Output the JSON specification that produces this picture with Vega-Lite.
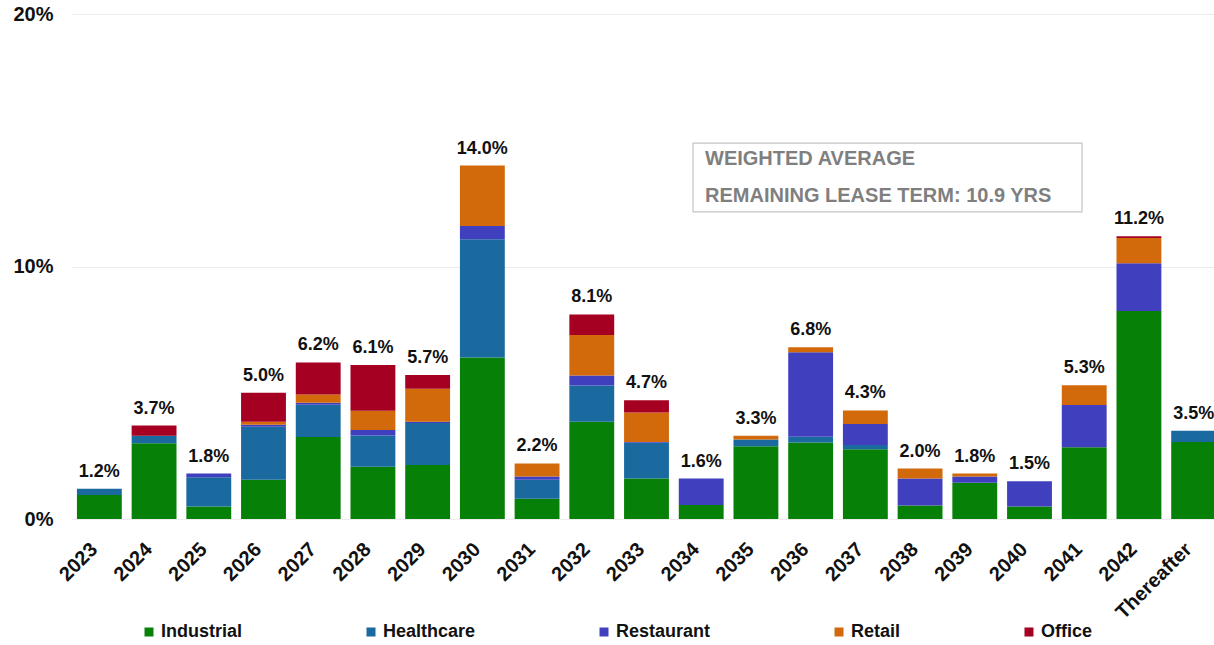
{
  "$schema": "https://vega.github.io/schema/vega-lite/v6.json",
  "width": 1149,
  "height": 505,
  "autosize": {"type": "none"},
  "padding": {"left": 72, "top": 14, "right": 0, "bottom": 126},
  "background": "white",
  "config": {"view": {"stroke": null}, "font": "Liberation Sans"},
  "datasets": {
    "leases": [
      {"year": "2023", "type": "Industrial", "value": 0.0095},
      {"year": "2023", "type": "Healthcare", "value": 0.0025},
      {"year": "2024", "type": "Industrial", "value": 0.03},
      {"year": "2024", "type": "Healthcare", "value": 0.003},
      {"year": "2024", "type": "Office", "value": 0.004},
      {"year": "2025", "type": "Industrial", "value": 0.005},
      {"year": "2025", "type": "Healthcare", "value": 0.0115},
      {"year": "2025", "type": "Restaurant", "value": 0.0015},
      {"year": "2026", "type": "Industrial", "value": 0.0155},
      {"year": "2026", "type": "Healthcare", "value": 0.021},
      {"year": "2026", "type": "Restaurant", "value": 0.0008},
      {"year": "2026", "type": "Retail", "value": 0.0012},
      {"year": "2026", "type": "Office", "value": 0.0115},
      {"year": "2027", "type": "Industrial", "value": 0.0325},
      {"year": "2027", "type": "Healthcare", "value": 0.0127},
      {"year": "2027", "type": "Restaurant", "value": 0.0008},
      {"year": "2027", "type": "Retail", "value": 0.0033},
      {"year": "2027", "type": "Office", "value": 0.0127},
      {"year": "2028", "type": "Industrial", "value": 0.0207},
      {"year": "2028", "type": "Healthcare", "value": 0.0124},
      {"year": "2028", "type": "Restaurant", "value": 0.0021},
      {"year": "2028", "type": "Retail", "value": 0.0077},
      {"year": "2028", "type": "Office", "value": 0.0181},
      {"year": "2029", "type": "Industrial", "value": 0.0214},
      {"year": "2029", "type": "Healthcare", "value": 0.0166},
      {"year": "2029", "type": "Restaurant", "value": 0.0005},
      {"year": "2029", "type": "Retail", "value": 0.0131},
      {"year": "2029", "type": "Office", "value": 0.0054},
      {"year": "2030", "type": "Industrial", "value": 0.064},
      {"year": "2030", "type": "Healthcare", "value": 0.0468},
      {"year": "2030", "type": "Restaurant", "value": 0.0052},
      {"year": "2030", "type": "Retail", "value": 0.024},
      {"year": "2031", "type": "Industrial", "value": 0.008},
      {"year": "2031", "type": "Healthcare", "value": 0.0075},
      {"year": "2031", "type": "Restaurant", "value": 0.0013},
      {"year": "2031", "type": "Retail", "value": 0.0052},
      {"year": "2032", "type": "Industrial", "value": 0.0385},
      {"year": "2032", "type": "Healthcare", "value": 0.0144},
      {"year": "2032", "type": "Restaurant", "value": 0.0039},
      {"year": "2032", "type": "Retail", "value": 0.0161},
      {"year": "2032", "type": "Office", "value": 0.0081},
      {"year": "2033", "type": "Industrial", "value": 0.016},
      {"year": "2033", "type": "Healthcare", "value": 0.0142},
      {"year": "2033", "type": "Restaurant", "value": 0.0003},
      {"year": "2033", "type": "Retail", "value": 0.0117},
      {"year": "2033", "type": "Office", "value": 0.0048},
      {"year": "2034", "type": "Industrial", "value": 0.0055},
      {"year": "2034", "type": "Restaurant", "value": 0.0105},
      {"year": "2035", "type": "Industrial", "value": 0.0288},
      {"year": "2035", "type": "Healthcare", "value": 0.0027},
      {"year": "2035", "type": "Retail", "value": 0.0015},
      {"year": "2036", "type": "Industrial", "value": 0.0303},
      {"year": "2036", "type": "Healthcare", "value": 0.0023},
      {"year": "2036", "type": "Restaurant", "value": 0.0334},
      {"year": "2036", "type": "Retail", "value": 0.002},
      {"year": "2037", "type": "Industrial", "value": 0.0276},
      {"year": "2037", "type": "Healthcare", "value": 0.0017},
      {"year": "2037", "type": "Restaurant", "value": 0.0083},
      {"year": "2037", "type": "Retail", "value": 0.0054},
      {"year": "2038", "type": "Industrial", "value": 0.0053},
      {"year": "2038", "type": "Restaurant", "value": 0.0107},
      {"year": "2038", "type": "Retail", "value": 0.004},
      {"year": "2039", "type": "Industrial", "value": 0.0144},
      {"year": "2039", "type": "Restaurant", "value": 0.0024},
      {"year": "2039", "type": "Retail", "value": 0.0012},
      {"year": "2040", "type": "Industrial", "value": 0.005},
      {"year": "2040", "type": "Restaurant", "value": 0.01},
      {"year": "2041", "type": "Industrial", "value": 0.0284},
      {"year": "2041", "type": "Restaurant", "value": 0.0167},
      {"year": "2041", "type": "Retail", "value": 0.0079},
      {"year": "2042", "type": "Industrial", "value": 0.0824},
      {"year": "2042", "type": "Restaurant", "value": 0.0189},
      {"year": "2042", "type": "Retail", "value": 0.01},
      {"year": "2042", "type": "Office", "value": 0.0007},
      {"year": "Thereafter", "type": "Industrial", "value": 0.0305},
      {"year": "Thereafter", "type": "Healthcare", "value": 0.0045}
    ],
    "typeRank": [
      {"type": "Industrial", "rank": 1},
      {"type": "Healthcare", "rank": 2},
      {"type": "Restaurant", "rank": 3},
      {"type": "Retail", "rank": 4},
      {"type": "Office", "rank": 5}
    ],
    "noteBox": [
      {"left": 11.35, "right": 18.46, "bottom": 0.1216, "top": 0.1489}
    ],
    "noteText": [
      {"line": "WEIGHTED AVERAGE", "at": 11.57, "level": 0.1425},
      {"line": "REMAINING LEASE TERM: 10.9 YRS", "at": 11.57, "level": 0.1279}
    ]
  },
  "layer": [
    {
      "data": {"name": "leases"},
      "encoding": {
        "x": {
          "field": "year",
          "type": "nominal",
          "sort": ["2023","2024","2025","2026","2027","2028","2029","2030","2031","2032","2033","2034","2035","2036","2037","2038","2039","2040","2041","2042","Thereafter"],
          "scale": {"paddingInner": 0.18, "paddingOuter": 0.09},
          "axis": {
            "title": null,
            "labelAngle": -45,
            "labelAlign": "right",
            "labelBaseline": "middle",
            "labelFont": "Liberation Sans",
            "labelFontSize": 20,
            "labelFontWeight": "bold",
            "labelColor": "#111111",
            "labelPadding": 27,
            "labelOffset": -5,
            "labelOverlap": false,
            "labelFlush": false,
            "labelBound": false,
            "ticks": false,
            "domain": false
          }
        }
      },
      "layer": [
        {
          "transform": [
            {"lookup": "type", "from": {"data": {"name": "typeRank"}, "key": "type", "fields": ["rank"]}}
          ],
          "mark": {"type": "bar"},
          "encoding": {
            "y": {
              "field": "value",
              "type": "quantitative",
              "stack": "zero",
              "scale": {"domain": [0, 0.2], "nice": false},
              "axis": {
                "title": null,
                "values": [0, 0.1, 0.2],
                "format": ".0%",
                "labelFont": "Liberation Sans",
                "labelFontSize": 20,
                "labelFontWeight": "bold",
                "labelColor": "#111111",
                "labelPadding": 19,
                "ticks": false,
                "domain": false,
                "grid": true,
                "gridColor": "#ececec",
                "gridWidth": 1
              }
            },
            "color": {
              "field": "type",
              "type": "nominal",
              "sort": ["Industrial", "Healthcare", "Restaurant", "Retail", "Office"],
              "scale": {
                "domain": ["Industrial", "Healthcare", "Restaurant", "Retail", "Office"],
                "range": ["#068006", "#1A6AA0", "#4040BF", "#D2690A", "#A50021"]
              },
              "legend": {
                "title": null,
                "orient": "none",
                "legendX": 68,
                "legendY": 609,
                "direction": "horizontal",
                "symbolType": "square",
                "symbolSize": 81,
                "symbolStrokeWidth": 0,
                "labelFont": "Liberation Sans",
                "labelFontSize": 18,
                "labelFontWeight": "bold",
                "labelColor": "#111111",
                "labelOffset": 3,
                "columnPadding": 119,
                "padding": 0
              }
            },
            "order": {"field": "rank", "type": "quantitative", "sort": "ascending"}
          }
        },
        {
          "transform": [
            {"aggregate": [{"op": "sum", "field": "value", "as": "total"}], "groupby": ["year"]}
          ],
          "mark": {
            "type": "text",
            "font": "Liberation Sans",
            "fontSize": 18,
            "fontWeight": "bold",
            "color": "#111111",
            "baseline": "alphabetic",
            "dy": -12
          },
          "encoding": {
            "y": {"field": "total", "type": "quantitative"},
            "text": {"field": "total", "type": "quantitative", "format": ".1%"}
          }
        }
      ]
    },
    {
      "data": {"name": "noteBox"},
      "mark": {"type": "rect", "fill": "white", "stroke": "#c4c4c4", "strokeWidth": 1.2},
      "encoding": {
        "x": {"field": "left", "type": "quantitative", "scale": {"domain": [0, 21], "nice": false}, "axis": null},
        "x2": {"field": "right"},
        "y": {"field": "bottom", "type": "quantitative"},
        "y2": {"field": "top"}
      }
    },
    {
      "data": {"name": "noteText"},
      "mark": {
        "type": "text",
        "font": "Liberation Sans",
        "fontSize": 20,
        "fontWeight": "bold",
        "color": "#7f7f7f",
        "align": "left",
        "baseline": "middle"
      },
      "encoding": {
        "x": {"field": "at", "type": "quantitative", "scale": {"domain": [0, 21], "nice": false}, "axis": null},
        "y": {"field": "level", "type": "quantitative"},
        "text": {"field": "line", "type": "nominal"}
      }
    }
  ],
  "resolve": {"scale": {"x": "independent"}}
}
